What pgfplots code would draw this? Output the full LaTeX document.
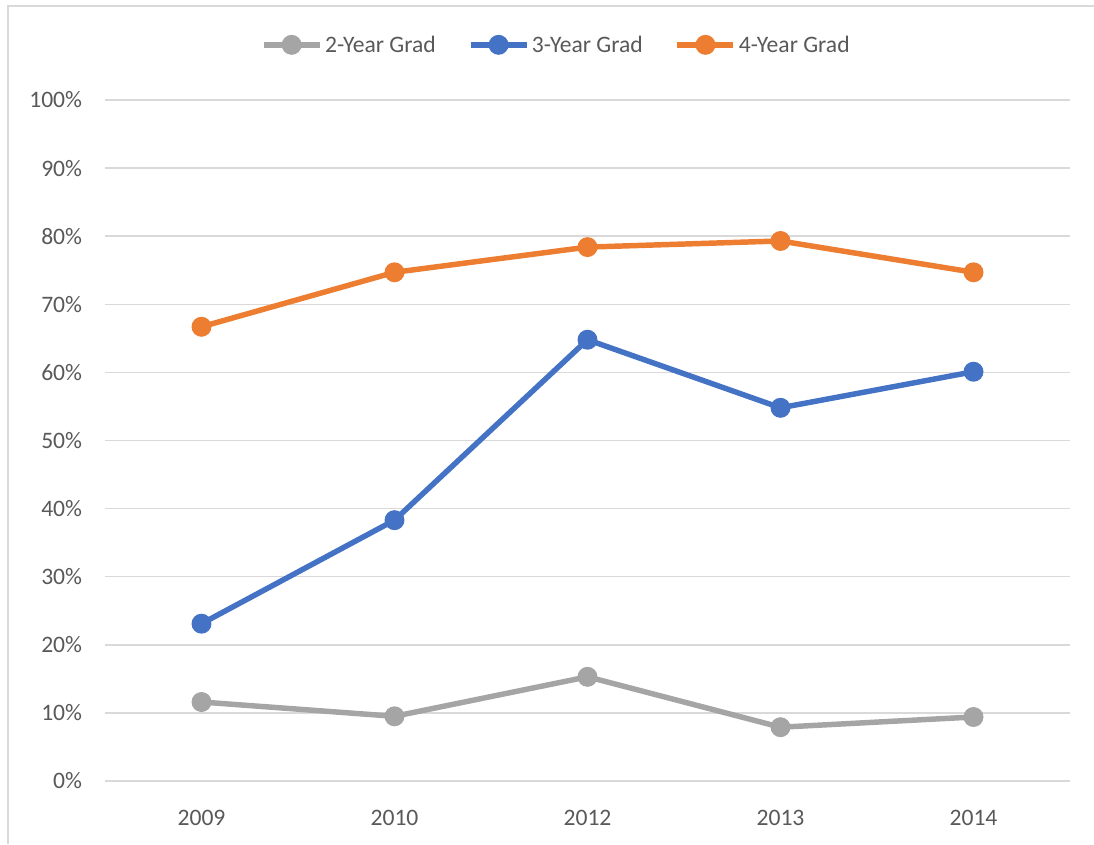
\documentclass[border=0pt]{standalone}
\usepackage{fontspec}
\setmainfont{Carlito}
\usepackage{pgfplots}
\pgfplotsset{compat=1.18}

\definecolor{txtgray}{HTML}{595959}
\definecolor{gridgray}{HTML}{D9D9D9}
\definecolor{s2gray}{HTML}{A5A5A5}
\definecolor{s3blue}{HTML}{4472C4}
\definecolor{s4orange}{HTML}{ED7D31}

\begin{document}
\begin{tikzpicture}
% picture area, 1px = 0.75pt, axis corner at the origin
\path[use as bounding box] (-78.75pt,-47.25pt) rectangle (741.75pt,585.75pt);
\draw[gridgray, line width=1.5pt] (-72.75pt,-47.25pt) -- (-72.75pt,581.25pt) -- (741.75pt,581.25pt);

\begin{axis}[
    at={(0pt,0pt)}, anchor=south west,
    scale only axis,
    width=723.75pt, height=510.75pt,
    axis line style={draw=none},
    xmin=-0.5, xmax=4.5,
    ymin=0, ymax=100,
    xtick={0,1,2,3,4},
    xticklabels={2009,2010,2012,2013,2014},
    ytick={0,10,...,100},
    yticklabel={\pgfmathprintnumber{\tick}\%},
    /pgf/number format/assume math mode=true,
    ymajorgrids,
    grid style={gridgray, line width=1.1pt},
    major tick length=0pt,
    tick label style={font=\fontsize{17.7}{21}\selectfont, text=txtgray},
    yticklabel style={inner sep=0pt, anchor=east, xshift=-17pt},
    xticklabel style={inner sep=0pt, anchor=north, yshift=-22pt},
    legend columns=3,
    legend style={draw=none, fill=none, at={(0.468,1.081)}, anchor=center,
        font=\fontsize{17.7}{21}\selectfont, text=txtgray,
        /tikz/every even column/.style={column sep=22pt},
        inner sep=0pt},
    legend cell align=left,
    legend image code/.code={\draw[mark repeat=2, mark phase=2] plot coordinates {(0pt,0pt) (21pt,0pt) (42pt,0pt)};},
    clip=false,
]
\addplot[s2gray, line width=4.1pt, mark=*, mark size=5.4pt, mark options={solid}] coordinates {(0,11.6) (1,9.5) (2,15.3) (3,7.9) (4,9.4)};
\addlegendentry{2-Year Grad}
\addplot[s3blue, line width=4.1pt, mark=*, mark size=5.4pt, mark options={solid}] coordinates {(0,23.1) (1,38.3) (2,64.8) (3,54.8) (4,60.1)};
\addlegendentry{3-Year Grad}
\addplot[s4orange, line width=4.1pt, mark=*, mark size=5.4pt, mark options={solid}] coordinates {(0,66.7) (1,74.7) (2,78.4) (3,79.3) (4,74.7)};
\addlegendentry{4-Year Grad}
\end{axis}
\end{tikzpicture}
\end{document}
